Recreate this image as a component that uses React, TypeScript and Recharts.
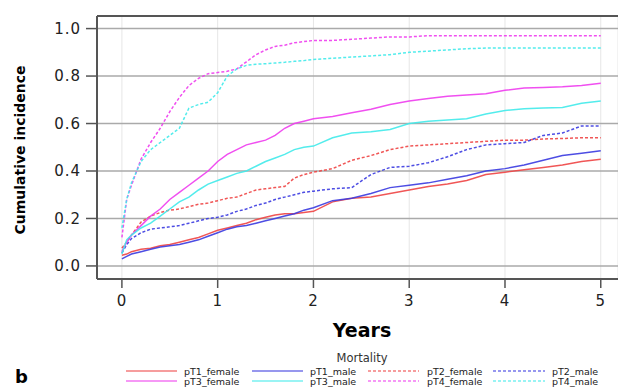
import { LineChart, Line, XAxis, YAxis, CartesianGrid, ReferenceLine } from 'recharts';

const years = [
  0, 0.05, 0.1, 0.2, 0.3, 0.4, 0.5, 0.6, 0.7, 0.8, 0.9, 1.0, 1.1, 1.2, 1.3, 1.4, 1.5, 1.6, 1.7, 1.8, 1.9,
  2.0, 2.2, 2.4, 2.6, 2.8, 3.0, 3.2, 3.4, 3.6, 3.8, 4.0, 4.2, 4.4, 4.6, 4.8, 5.0,
];

const pT1Female = [
  0.045, 0.05, 0.06, 0.07, 0.075, 0.085, 0.09, 0.1, 0.11, 0.12, 0.135, 0.15, 0.16, 0.17, 0.18, 0.195, 0.205, 0.215, 0.22, 0.22, 0.225,
  0.23, 0.27, 0.285, 0.29, 0.305, 0.32, 0.335, 0.345, 0.36, 0.385, 0.395, 0.405, 0.415, 0.425, 0.44, 0.45,
];
const pT1Male = [
  0.03, 0.04, 0.05, 0.06, 0.07, 0.08, 0.085, 0.09, 0.1, 0.11, 0.125, 0.14, 0.155, 0.165, 0.17, 0.18, 0.19, 0.2, 0.21, 0.22, 0.235,
  0.245, 0.275, 0.285, 0.305, 0.33, 0.34, 0.35, 0.365, 0.38, 0.4, 0.41, 0.425, 0.445, 0.465, 0.475, 0.485,
];
const pT2Female = [
  0.075, 0.1, 0.13, 0.185, 0.21, 0.225, 0.235, 0.24, 0.25, 0.26, 0.265, 0.275, 0.285, 0.29, 0.305, 0.32, 0.325, 0.33, 0.335, 0.37, 0.385,
  0.395, 0.41, 0.445, 0.465, 0.49, 0.505, 0.51, 0.515, 0.52, 0.525, 0.53, 0.53, 0.535, 0.537, 0.54, 0.54,
];
const pT2Male = [
  0.055, 0.09, 0.115, 0.14, 0.155, 0.16, 0.165, 0.17, 0.18, 0.19, 0.2, 0.205, 0.215, 0.23, 0.24, 0.255, 0.265, 0.28, 0.29, 0.3, 0.31,
  0.315, 0.325, 0.33, 0.385, 0.415, 0.42, 0.435, 0.46, 0.49, 0.51, 0.515, 0.52, 0.55, 0.56, 0.59, 0.59,
];
const pT3Female = [
  0.06, 0.1, 0.13, 0.17, 0.21, 0.24, 0.28, 0.31, 0.34, 0.37, 0.4, 0.44, 0.47, 0.49, 0.51, 0.52, 0.53, 0.55, 0.58, 0.6, 0.61,
  0.62, 0.63, 0.645, 0.66, 0.68, 0.695, 0.705, 0.715, 0.72, 0.725, 0.74, 0.75, 0.752, 0.755, 0.76, 0.77,
];
const pT3Male = [
  0.05, 0.11, 0.13, 0.16, 0.18, 0.21, 0.24, 0.27, 0.29, 0.32, 0.345, 0.36, 0.375, 0.39, 0.4, 0.42, 0.44, 0.455, 0.47, 0.49, 0.5,
  0.505, 0.54, 0.56, 0.565, 0.575, 0.6, 0.61, 0.615, 0.62, 0.64, 0.655, 0.662, 0.665, 0.668, 0.685, 0.695,
];
const pT4Female = [
  0.12, 0.28, 0.34, 0.45, 0.52, 0.58, 0.65, 0.71, 0.76, 0.79, 0.81, 0.815, 0.82, 0.83, 0.86, 0.89, 0.91, 0.925, 0.93, 0.94, 0.945,
  0.95, 0.95, 0.955, 0.96, 0.965, 0.965, 0.97, 0.97, 0.97, 0.97, 0.97, 0.97, 0.97, 0.97, 0.97, 0.97,
];
const pT4Male = [
  0.16, 0.28, 0.35, 0.44, 0.49, 0.52, 0.55, 0.58, 0.665, 0.68, 0.69, 0.73, 0.8, 0.83, 0.845, 0.85, 0.852, 0.855, 0.858, 0.862, 0.865,
  0.87, 0.875, 0.88, 0.885, 0.89, 0.9, 0.905, 0.91, 0.915, 0.918, 0.918, 0.918, 0.918, 0.918, 0.918, 0.918,
];

const xTicks = [0, 1, 2, 3, 4, 5];
const yTicks = [0, 0.2, 0.4, 0.6, 0.8, 1.0];

// legend order is row by row, four columns
const series = [
  { key: 'pT1_female', values: pT1Female, color: '#ee4444', dash: undefined },
  { key: 'pT1_male', values: pT1Male, color: '#3a3ae0', dash: undefined },
  { key: 'pT2_female', values: pT2Female, color: '#ee4444', dash: '3 2' },
  { key: 'pT2_male', values: pT2Male, color: '#3a3ae0', dash: '3 2' },
  { key: 'pT3_female', values: pT3Female, color: '#ee3cee', dash: undefined },
  { key: 'pT3_male', values: pT3Male, color: '#40eaea', dash: undefined },
  { key: 'pT4_female', values: pT4Female, color: '#ee3cee', dash: '3 2' },
  { key: 'pT4_male', values: pT4Male, color: '#40eaea', dash: '3 2' },
];

const rows = years.map((t, i) => {
  const row: Record<string, number> = { t };
  series.forEach((s) => {
    row[s.key] = s.values[i];
  });
  return row;
});

const font = '"DejaVu Sans", sans-serif';

const legendCols = [
  { x1: 126, x2: 177, tx: 184 },
  { x1: 252, x2: 303, tx: 310 },
  { x1: 368, x2: 419, tx: 427 },
  { x1: 493, x2: 545, tx: 552 },
];
const legendRows = [371, 381];

function Overlay() {
  return (
    <svg
      width={618}
      height={388}
      style={{ position: 'absolute', left: 0, top: 0, pointerEvents: 'none' }}
      fontFamily={font}
    >
      <text
        x={20}
        y={150}
        transform="rotate(-90, 20, 150)"
        textAnchor="middle"
        dominantBaseline="central"
        fontWeight="bold"
        fontSize={14}
        fill="#000"
      >
        Cumulative incidence
      </text>
      <text x={362} y={337} textAnchor="middle" fontWeight="bold" fontSize={19} fill="#000">
        Years
      </text>
      <text x={362} y={362} textAnchor="middle" fontSize={11.5} fill="#333">
        Mortality
      </text>
      {series.map((s, i) => {
        const col = legendCols[i % 4];
        const y = legendRows[Math.floor(i / 4)];
        return (
          <g key={s.key}>
            <line
              x1={col.x1}
              x2={col.x2}
              y1={y}
              y2={y}
              stroke={s.color}
              strokeOpacity={0.7}
              strokeWidth={1.5}
              strokeDasharray={s.dash}
            />
            <text x={col.tx} y={y + 3.5} fontSize={9.5} fill="#222">
              {s.key}
            </text>
          </g>
        );
      })}
      <text x={15} y={383} fontWeight="bold" fontSize={18} fill="#000">
        b
      </text>
    </svg>
  );
}

export default function App() {
  return (
    <div style={{ position: 'absolute', left: 0, top: 0, width: 618, height: 388, background: '#fff' }}>
      <LineChart width={618} height={388} data={rows} margin={{ top: 16, right: 0, bottom: 0, left: 0 }}>
        <CartesianGrid horizontal={false} stroke="#e6e6e6" strokeWidth={1} />
        <CartesianGrid vertical={false} stroke="#aaaaaa" strokeWidth={1.5} />
        <XAxis
          dataKey="t"
          type="number"
          domain={[-0.26, 5.18]}
          ticks={xTicks}
          allowDataOverflow
          height={109}
          tickSize={9}
          tickMargin={7}
          axisLine={{ stroke: '#555', strokeWidth: 2 }}
          tickLine={{ stroke: '#555', strokeWidth: 1.5 }}
          tick={{ fill: '#222', fontSize: 15, fontFamily: font, letterSpacing: 1 }}
        />
        <YAxis
          type="number"
          domain={[-0.055, 1.053]}
          ticks={yTicks}
          allowDataOverflow
          width={97}
          tickSize={11}
          tickMargin={5}
          tickFormatter={(v: number) => v.toFixed(1)}
          axisLine={{ stroke: '#555', strokeWidth: 2 }}
          tickLine={{ stroke: '#555', strokeWidth: 1.5 }}
          tick={{ fill: '#222', fontSize: 15, fontFamily: font, letterSpacing: 1 }}
        />
        <ReferenceLine y={1.053} stroke="#555" strokeWidth={2} />
        {series.map((s) => (
          <Line
            key={s.key}
            dataKey={s.key}
            type="linear"
            stroke={s.color}
            strokeWidth={1.5}
            strokeOpacity={0.9}
            strokeDasharray={s.dash}
            dot={false}
            activeDot={false}
            isAnimationActive={false}
          />
        ))}
      </LineChart>
      <Overlay />
    </div>
  );
}
